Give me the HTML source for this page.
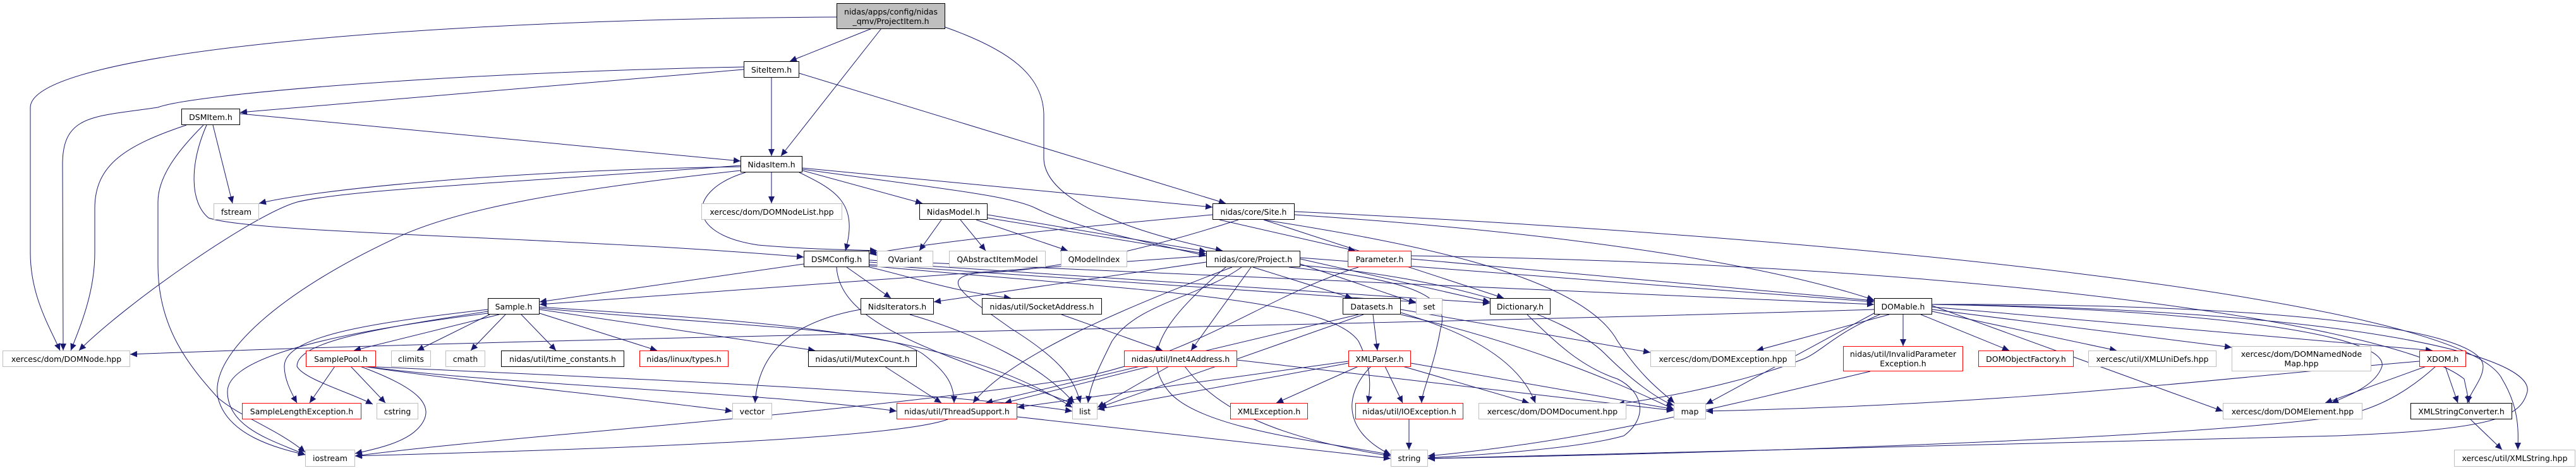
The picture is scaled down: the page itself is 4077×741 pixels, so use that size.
<!DOCTYPE html>
<html><head><meta charset="utf-8"><style>
html,body{margin:0;padding:0;background:#fff;}
#c{position:relative;width:4077px;height:741px;overflow:hidden;background:#fff;}
svg{position:absolute;left:0;top:0;}
.n{position:absolute;box-sizing:border-box;background:#fff;border:1px solid #000;font-family:"DejaVu Sans","Liberation Sans",sans-serif;font-size:12.5px;color:#000;display:flex;align-items:center;justify-content:center;text-align:center;line-height:15px;white-space:nowrap;}
.g{border-color:#bfbfbf;}
.r{border-color:#ff0000;}
.t{background:#bfbfbf;}
</style></head><body><div id="c">
<svg width="4077" height="741" viewBox="0 0 4077 741">
<defs><marker id="a" markerUnits="userSpaceOnUse" markerWidth="12" markerHeight="10" refX="11" refY="5" orient="auto"><path d="M0,0 L11,5 L0,10 z" fill="#191970"/></marker></defs>
<g fill="none" stroke="#191970" stroke-width="1" marker-end="url(#a)">
<path d="M1324,27 C700,30 50,80 48,170 L48,400 C48,470 80,520 95,555"/>
<path d="M1380,45 L1250,97"/>
<path d="M1395,45 L1236,247"/>
<path d="M1496,43 C1600,80 1650,120 1652,180 L1652,250 C1652,320 1800,370 1935,397"/>
<path d="M1177,106 C700,115 300,150 250,170 C150,185 99,180 99,260 L100,555"/>
<path d="M1177,110 L380,178"/>
<path d="M1221,123 L1221,247"/>
<path d="M1265,116 L1940,322"/>
<path d="M295,198 C200,230 150,260 150,330 L150,400 C150,460 130,510 112,555"/>
<path d="M337,198 L368,322"/>
<path d="M322,198 C280,240 250,280 250,320 L250,420 C250,520 300,580 345,630 C380,660 440,680 483,716"/>
<path d="M327,198 C300,260 300,320 330,345 C400,370 900,375 1272,407"/>
<path d="M380,180 L1172,255"/>
<path d="M1172,264 C800,270 500,300 410,322"/>
<path d="M1172,262 C800,290 550,300 470,320 C400,340 200,480 125,555"/>
<path d="M1221,273 L1221,322"/>
<path d="M1180,273 C1090,300 1080,370 1200,388 C1280,395 1340,395 1388,397"/>
<path d="M1265,273 C1320,300 1360,320 1338,397"/>
<path d="M1270,270 L1460,322"/>
<path d="M1270,266 L1919,328"/>
<path d="M1270,268 C1500,300 1600,310 1640,330 C1700,360 1800,380 1909,405"/>
<path d="M1172,270 C900,300 720,330 620,380 C450,460 330,560 345,630 C360,690 440,710 483,720"/>
<path d="M1490,348 L1455,397"/>
<path d="M1520,348 L1560,397"/>
<path d="M1545,348 L1690,397"/>
<path d="M1563,340 L1909,398"/>
<path d="M1563,345 L1909,402"/>
<path d="M1919,340 C1700,360 1500,380 1376,402"/>
<path d="M1930,348 L2145,397"/>
<path d="M2049,340 C2500,370 2800,420 2966,475"/>
<path d="M2000,348 C2200,380 2500,430 2560,540 C2600,600 2630,620 2650,638"/>
<path d="M1960,348 C1800,400 1650,430 1550,432 C1480,440 1530,470 1600,520 C1680,570 1700,600 1710,638"/>
<path d="M2000,348 L2380,472"/>
<path d="M2049,335 C3000,380 3900,480 3960,600 C3990,650 3985,690 3985,712"/>
<path d="M1272,418 L854,478"/>
<path d="M1340,423 L1410,472"/>
<path d="M1324,423 C1330,520 1500,560 1700,640"/>
<path d="M1376,423 C1450,440 1500,460 1600,472"/>
<path d="M1376,415 L2358,480"/>
<path d="M1376,419 L2241,478"/>
<path d="M1376,412 L2966,482"/>
<path d="M1376,421 C1800,460 2100,470 2150,540 C2170,580 2170,610 2165,638"/>
<path d="M1909,405 L854,482"/>
<path d="M1909,415 L1478,478"/>
<path d="M1983,423 L2140,472"/>
<path d="M2058,410 L2358,478"/>
<path d="M2058,408 L2966,478"/>
<path d="M2058,418 L2241,480"/>
<path d="M1950,423 C1800,480 1600,560 1540,638"/>
<path d="M1980,423 L1885,555"/>
<path d="M1965,423 C1900,470 1800,480 1760,540 C1740,580 1725,610 1722,638"/>
<path d="M2040,423 C2200,440 2300,460 2280,520 C2270,580 2250,620 2250,638"/>
<path d="M2058,420 C2300,440 2480,500 2540,560 C2580,600 2620,630 2649,642"/>
<path d="M1940,423 C1850,500 1800,560 1850,620 C1900,680 2100,700 2201,720"/>
<path d="M2234,410 L2966,476"/>
<path d="M2150,423 C2000,470 1900,560 1700,600 C1300,660 800,690 562,722"/>
<path d="M2234,405 C3200,420 3800,520 3900,600 L3908,638"/>
<path d="M790,498 L560,555"/>
<path d="M775,498 L660,555"/>
<path d="M800,498 L745,555"/>
<path d="M825,498 L880,555"/>
<path d="M854,496 L1040,555"/>
<path d="M854,490 L1290,555"/>
<path d="M854,488 C1200,520 1400,520 1460,560 C1500,590 1510,610 1510,638"/>
<path d="M854,486 C1200,510 1500,520 1697,645"/>
<path d="M772,490 C600,510 450,530 450,580 C450,600 460,620 470,638"/>
<path d="M772,493 C600,520 470,540 470,580 C480,600 550,620 590,640"/>
<path d="M772,496 C500,530 360,570 360,620 C360,680 440,700 483,720"/>
<path d="M2966,490 C2000,520 1000,530 206,561"/>
<path d="M530,580 L490,638"/>
<path d="M555,580 L610,638"/>
<path d="M570,580 C650,610 700,640 660,680 C640,700 600,710 562,718"/>
<path d="M575,580 C700,600 1000,630 1159,651"/>
<path d="M575,580 C800,610 1200,620 1419,651"/>
<path d="M575,580 C1000,600 1500,620 1697,651"/>
<path d="M1362,490 C1250,510 1200,560 1195,638"/>
<path d="M1440,498 C1550,530 1650,580 1700,638"/>
<path d="M1400,580 L1490,638"/>
<path d="M1680,498 L1840,555"/>
<path d="M1820,580 L1590,638"/>
<path d="M1850,580 L1737,645"/>
<path d="M1875,580 C1920,640 2000,690 2201,722"/>
<path d="M1958,570 L2649,650"/>
<path d="M2173,498 L2180,555"/>
<path d="M2217,490 L2612,558"/>
<path d="M2217,495 C2300,520 2400,560 2430,638"/>
<path d="M2217,498 C2400,540 2550,600 2649,648"/>
<path d="M2158,498 L1740,645"/>
<path d="M2150,498 L1560,638"/>
<path d="M2417,498 C2460,540 2500,580 2560,600 C2600,620 2610,660 2570,690 C2500,710 2350,720 2260,725"/>
<path d="M2150,580 L2020,638"/>
<path d="M2192,580 L2220,638"/>
<path d="M2220,580 L2420,638"/>
<path d="M2233,575 L2649,648"/>
<path d="M2170,580 C2130,620 2120,680 2201,720"/>
<path d="M2134,572 L1610,645"/>
<path d="M2134,575 L1737,648"/>
<path d="M2990,498 L2780,555"/>
<path d="M3012,498 L3012,548"/>
<path d="M3040,498 L3180,555"/>
<path d="M3058,493 L3350,555"/>
<path d="M3058,490 L3532,550"/>
<path d="M3058,486 L3850,555"/>
<path d="M3058,482 C3500,490 3780,530 3770,580 C3760,610 3720,625 3690,638"/>
<path d="M3058,482 C3600,480 3930,520 3930,580 C3930,600 3910,620 3905,638"/>
<path d="M3058,482 C3700,490 4010,560 4000,620 C3990,660 3950,680 3700,690 C3000,710 2500,722 2260,726"/>
<path d="M2975,498 C2900,530 2880,560 2850,570 C2800,590 2700,620 2560,640"/>
<path d="M2966,496 L2700,640"/>
<path d="M3829,572 C3500,600 3200,640 2700,651"/>
<path d="M2960,588 C2700,650 2500,700 2260,722"/>
<path d="M3840,580 L3680,638"/>
<path d="M3870,580 L3890,638"/>
<path d="M3855,580 C3800,630 3750,650 3700,660 C3400,700 2600,720 2260,726"/>
<path d="M3910,664 L3960,712"/>
<path d="M2230,664 L2230,712"/>
<path d="M1500,664 C1400,700 800,715 562,722"/>
<path d="M1610,660 L2201,726"/>
<path d="M3058,484 L3518,651"/>
</g></svg>
<div class="n t" style="left:1324px;top:5px;width:172px;height:41px;">nidas/apps/config/nidas<br>_qmv/ProjectItem.h</div>
<div class="n" style="left:1177px;top:97px;width:88px;height:26px;">SiteItem.h</div>
<div class="n" style="left:287px;top:172px;width:93px;height:26px;">DSMItem.h</div>
<div class="n" style="left:1172px;top:247px;width:98px;height:26px;">NidasItem.h</div>
<div class="n g" style="left:338px;top:322px;width:72px;height:26px;">fstream</div>
<div class="n g" style="left:1110px;top:322px;width:223px;height:26px;">xercesc/dom/DOMNodeList.hpp</div>
<div class="n" style="left:1455px;top:322px;width:108px;height:26px;">NidasModel.h</div>
<div class="n" style="left:1919px;top:322px;width:130px;height:26px;">nidas/core/Site.h</div>
<div class="n" style="left:1272px;top:397px;width:104px;height:26px;">DSMConfig.h</div>
<div class="n g" style="left:1388px;top:397px;width:89px;height:26px;">QVariant</div>
<div class="n g" style="left:1502px;top:397px;width:153px;height:26px;">QAbstractItemModel</div>
<div class="n g" style="left:1679px;top:397px;width:105px;height:26px;">QModelIndex</div>
<div class="n" style="left:1909px;top:397px;width:149px;height:26px;">nidas/core/Project.h</div>
<div class="n r" style="left:2133px;top:397px;width:101px;height:26px;">Parameter.h</div>
<div class="n" style="left:772px;top:472px;width:82px;height:26px;">Sample.h</div>
<div class="n" style="left:1362px;top:472px;width:116px;height:26px;">NidsIterators.h</div>
<div class="n" style="left:1554px;top:472px;width:190px;height:26px;">nidas/util/SocketAddress.h</div>
<div class="n" style="left:2125px;top:472px;width:92px;height:26px;">Datasets.h</div>
<div class="n g" style="left:2241px;top:472px;width:42px;height:26px;">set</div>
<div class="n" style="left:2358px;top:472px;width:96px;height:26px;">Dictionary.h</div>
<div class="n" style="left:2966px;top:472px;width:92px;height:26px;">DOMable.h</div>
<div class="n g" style="left:4px;top:555px;width:202px;height:26px;">xercesc/dom/DOMNode.hpp</div>
<div class="n r" style="left:484px;top:555px;width:111px;height:26px;">SamplePool.h</div>
<div class="n g" style="left:619px;top:555px;width:63px;height:26px;">climits</div>
<div class="n g" style="left:705px;top:555px;width:63px;height:26px;">cmath</div>
<div class="n" style="left:793px;top:555px;width:195px;height:26px;">nidas/util/time_constants.h</div>
<div class="n r" style="left:1012px;top:555px;width:141px;height:26px;">nidas/linux/types.h</div>
<div class="n" style="left:1279px;top:555px;width:172px;height:26px;">nidas/util/MutexCount.h</div>
<div class="n r" style="left:1779px;top:555px;width:179px;height:26px;">nidas/util/Inet4Address.h</div>
<div class="n r" style="left:2134px;top:555px;width:99px;height:26px;">XMLParser.h</div>
<div class="n g" style="left:2612px;top:555px;width:230px;height:26px;">xercesc/dom/DOMException.hpp</div>
<div class="n r" style="left:2917px;top:548px;width:190px;height:40px;">nidas/util/InvalidParameter<br>Exception.h</div>
<div class="n r" style="left:3131px;top:555px;width:151px;height:26px;">DOMObjectFactory.h</div>
<div class="n g" style="left:3305px;top:555px;width:203px;height:26px;">xercesc/util/XMLUniDefs.hpp</div>
<div class="n g" style="left:3532px;top:548px;width:221px;height:40px;">xercesc/dom/DOMNamedNode<br>Map.hpp</div>
<div class="n r" style="left:3829px;top:555px;width:74px;height:26px;">XDOM.h</div>
<div class="n r" style="left:383px;top:638px;width:189px;height:26px;">SampleLengthException.h</div>
<div class="n g" style="left:596px;top:638px;width:66px;height:26px;">cstring</div>
<div class="n g" style="left:1159px;top:638px;width:63px;height:26px;">vector</div>
<div class="n r" style="left:1419px;top:638px;width:191px;height:26px;">nidas/util/ThreadSupport.h</div>
<div class="n g" style="left:1697px;top:638px;width:40px;height:26px;">list</div>
<div class="n r" style="left:1947px;top:638px;width:123px;height:26px;">XMLException.h</div>
<div class="n r" style="left:2145px;top:638px;width:171px;height:26px;">nidas/util/IOException.h</div>
<div class="n g" style="left:2340px;top:638px;width:234px;height:26px;">xercesc/dom/DOMDocument.hpp</div>
<div class="n g" style="left:2649px;top:638px;width:51px;height:26px;">map</div>
<div class="n g" style="left:3518px;top:638px;width:221px;height:26px;">xercesc/dom/DOMElement.hpp</div>
<div class="n" style="left:3815px;top:638px;width:161px;height:26px;">XMLStringConverter.h</div>
<div class="n g" style="left:483px;top:712px;width:79px;height:27px;">iostream</div>
<div class="n g" style="left:2201px;top:712px;width:59px;height:27px;">string</div>
<div class="n g" style="left:3884px;top:712px;width:192px;height:27px;">xercesc/util/XMLString.hpp</div>
</div></body></html>
